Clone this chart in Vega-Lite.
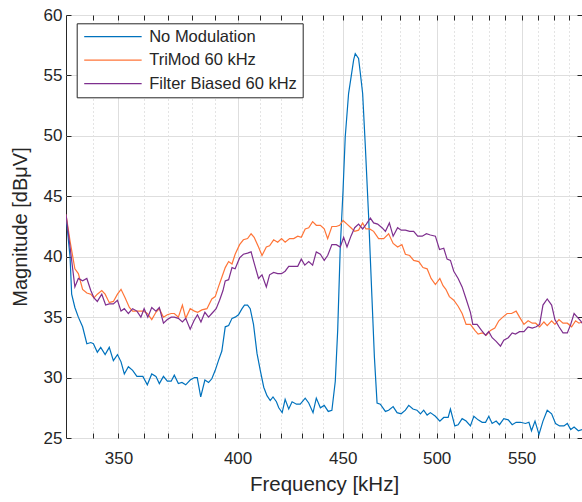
{
"$schema":"https://vega.github.io/schema/vega-lite/v6.json",
"width":516,"height":423,
"autosize":{"type":"none"},
"padding":{"left":66,"top":15,"right":0,"bottom":64},
"background":"white",
"config":{
 "view":{"stroke":"#262626","strokeWidth":1},
 "font":"Liberation Sans",
 "axis":{"labelFont":"Liberation Sans","titleFont":"Liberation Sans","labelColor":"#262626","titleColor":"#262626","tickColor":"#262626","titleFontWeight":"normal","domain":false},
 "legend":{"labelFont":"Liberation Sans"}
},
"datasets":{
"blue":[{"f":330.0,"v":43.4},{"f":331.5,"v":40.0},{"f":332.1,"v":36.9},{"f":333.3,"v":35.8},{"f":334.6,"v":35.0},{"f":336.2,"v":34.2},{"f":337.8,"v":32.8},{"f":339.3,"v":32.9},{"f":340.3,"v":32.8},{"f":341.8,"v":32.1},{"f":343.1,"v":32.5},{"f":344.8,"v":31.9},{"f":346.4,"v":32.5},{"f":348.0,"v":31.4},{"f":349.6,"v":31.9},{"f":351.0,"v":31.3},{"f":352.3,"v":30.3},{"f":353.9,"v":30.9},{"f":355.6,"v":30.6},{"f":357.3,"v":30.1},{"f":359.7,"v":30.1},{"f":361.5,"v":29.4},{"f":363.3,"v":30.3},{"f":365.0,"v":30.1},{"f":366.4,"v":29.5},{"f":368.1,"v":30.1},{"f":369.7,"v":29.7},{"f":371.3,"v":29.7},{"f":372.6,"v":30.2},{"f":374.3,"v":29.5},{"f":375.8,"v":29.6},{"f":377.4,"v":29.4},{"f":379.3,"v":29.8},{"f":381.1,"v":30.0},{"f":382.3,"v":30.0},{"f":383.8,"v":28.4},{"f":385.6,"v":29.8},{"f":387.2,"v":29.6},{"f":388.6,"v":29.9},{"f":390.1,"v":30.6},{"f":391.5,"v":31.4},{"f":393.0,"v":32.2},{"f":394.5,"v":34.2},{"f":396.0,"v":34.3},{"f":397.5,"v":34.9},{"f":398.9,"v":35.0},{"f":400.4,"v":35.2},{"f":402.0,"v":35.7},{"f":403.1,"v":36.0},{"f":404.5,"v":36.0},{"f":405.7,"v":35.7},{"f":407.2,"v":34.4},{"f":408.8,"v":32.0},{"f":410.3,"v":30.6},{"f":411.9,"v":29.2},{"f":413.4,"v":28.5},{"f":414.9,"v":28.1},{"f":416.2,"v":28.4},{"f":417.8,"v":28.0},{"f":418.9,"v":27.5},{"f":420.5,"v":27.1},{"f":421.9,"v":28.2},{"f":423.6,"v":27.4},{"f":425.2,"v":28.0},{"f":427.3,"v":27.8},{"f":429.1,"v":27.8},{"f":431.5,"v":28.3},{"f":433.2,"v":27.9},{"f":435.3,"v":27.1},{"f":436.9,"v":28.3},{"f":438.9,"v":27.5},{"f":440.8,"v":27.7},{"f":442.8,"v":27.2},{"f":444.6,"v":27.3},{"f":446.3,"v":29.7},{"f":447.5,"v":33.9},{"f":448.8,"v":40.8},{"f":450.2,"v":45.5},{"f":451.3,"v":49.9},{"f":453.0,"v":53.5},{"f":454.4,"v":55.0},{"f":455.6,"v":56.3},{"f":456.4,"v":56.8},{"f":458.1,"v":56.4},{"f":459.0,"v":55.2},{"f":460.2,"v":53.5},{"f":461.6,"v":49.1},{"f":463.3,"v":43.3},{"f":465.0,"v":36.7},{"f":466.3,"v":31.7},{"f":467.7,"v":27.9},{"f":469.4,"v":27.8},{"f":472.1,"v":27.2},{"f":473.8,"v":27.3},{"f":476.2,"v":27.6},{"f":478.3,"v":27.1},{"f":480.5,"v":27.0},{"f":482.8,"v":27.3},{"f":484.6,"v":27.7},{"f":486.9,"v":27.4},{"f":489.1,"v":27.3},{"f":491.0,"v":27.0},{"f":492.8,"v":27.3},{"f":494.7,"v":26.9},{"f":496.5,"v":27.1},{"f":499.3,"v":26.8},{"f":501.8,"v":26.4},{"f":504.0,"v":26.7},{"f":506.5,"v":26.7},{"f":507.8,"v":27.4},{"f":510.3,"v":26.0},{"f":512.2,"v":26.1},{"f":514.5,"v":26.6},{"f":516.8,"v":26.4},{"f":519.3,"v":26.0},{"f":521.3,"v":26.8},{"f":523.8,"v":26.5},{"f":526.2,"v":26.3},{"f":528.2,"v":26.3},{"f":530.1,"v":26.8},{"f":532.1,"v":26.2},{"f":534.5,"v":26.4},{"f":536.5,"v":26.1},{"f":539.1,"v":26.6},{"f":541.8,"v":26.5},{"f":544.2,"v":26.1},{"f":546.6,"v":26.3},{"f":549.3,"v":26.3},{"f":552.4,"v":26.2},{"f":554.5,"v":26.3},{"f":556.1,"v":25.6},{"f":558.3,"v":26.4},{"f":560.8,"v":25.3},{"f":563.3,"v":26.4},{"f":566.0,"v":27.3},{"f":568.8,"v":27.0},{"f":571.3,"v":26.2},{"f":573.9,"v":26.0},{"f":576.7,"v":26.0},{"f":578.9,"v":26.2},{"f":581.1,"v":25.7},{"f":583.3,"v":25.9},{"f":586.1,"v":25.6},{"f":588.5,"v":25.7}],
"orange":[{"f":330.0,"v":43.5},{"f":331.5,"v":41.3},{"f":333.3,"v":39.0},{"f":334.6,"v":38.6},{"f":336.2,"v":37.3},{"f":337.8,"v":37.0},{"f":339.3,"v":36.9},{"f":340.5,"v":36.6},{"f":341.8,"v":36.9},{"f":343.5,"v":37.2},{"f":344.8,"v":36.9},{"f":346.4,"v":36.2},{"f":348.0,"v":36.3},{"f":349.6,"v":36.9},{"f":351.0,"v":37.3},{"f":352.6,"v":36.6},{"f":354.3,"v":35.8},{"f":355.6,"v":35.5},{"f":357.3,"v":35.5},{"f":359.9,"v":35.5},{"f":361.5,"v":35.3},{"f":363.3,"v":34.8},{"f":365.0,"v":35.4},{"f":366.4,"v":35.7},{"f":368.1,"v":35.0},{"f":369.7,"v":35.2},{"f":371.3,"v":35.3},{"f":372.6,"v":35.3},{"f":374.3,"v":35.0},{"f":376.0,"v":36.0},{"f":377.4,"v":34.9},{"f":379.3,"v":35.7},{"f":381.1,"v":35.5},{"f":382.5,"v":35.4},{"f":384.3,"v":35.6},{"f":386.5,"v":35.7},{"f":388.6,"v":36.5},{"f":390.1,"v":36.7},{"f":391.5,"v":37.5},{"f":393.0,"v":38.3},{"f":394.5,"v":39.1},{"f":396.0,"v":39.6},{"f":397.5,"v":39.4},{"f":398.9,"v":40.2},{"f":400.9,"v":41.0},{"f":402.6,"v":41.4},{"f":404.5,"v":41.5},{"f":406.1,"v":41.9},{"f":407.5,"v":41.6},{"f":409.5,"v":40.8},{"f":411.1,"v":40.1},{"f":413.1,"v":40.8},{"f":414.6,"v":40.9},{"f":416.5,"v":41.4},{"f":418.4,"v":41.2},{"f":420.2,"v":41.5},{"f":421.9,"v":41.2},{"f":424.0,"v":41.5},{"f":426.0,"v":41.5},{"f":427.9,"v":41.7},{"f":429.6,"v":41.6},{"f":431.5,"v":42.3},{"f":433.2,"v":42.4},{"f":435.1,"v":42.9},{"f":436.9,"v":42.6},{"f":438.9,"v":42.6},{"f":440.8,"v":42.3},{"f":442.5,"v":41.5},{"f":444.6,"v":42.5},{"f":446.8,"v":42.5},{"f":448.5,"v":42.6},{"f":450.2,"v":43.0},{"f":452.2,"v":42.7},{"f":454.2,"v":42.4},{"f":456.1,"v":42.1},{"f":458.1,"v":42.2},{"f":460.2,"v":42.8},{"f":461.9,"v":42.3},{"f":463.8,"v":42.3},{"f":465.9,"v":42.1},{"f":468.5,"v":41.5},{"f":471.2,"v":41.5},{"f":473.8,"v":41.9},{"f":476.2,"v":41.1},{"f":478.6,"v":40.8},{"f":480.9,"v":41.0},{"f":482.8,"v":40.2},{"f":485.1,"v":40.1},{"f":487.3,"v":39.7},{"f":490.1,"v":39.6},{"f":492.4,"v":39.1},{"f":494.7,"v":39.0},{"f":496.9,"v":38.2},{"f":499.3,"v":37.7},{"f":501.8,"v":38.2},{"f":503.6,"v":37.6},{"f":505.2,"v":37.3},{"f":507.2,"v":36.7},{"f":509.7,"v":36.4},{"f":512.2,"v":35.9},{"f":514.5,"v":35.3},{"f":516.8,"v":34.4},{"f":519.3,"v":34.4},{"f":521.9,"v":33.9},{"f":523.8,"v":33.6},{"f":526.2,"v":33.7},{"f":528.6,"v":33.5},{"f":531.1,"v":33.9},{"f":533.7,"v":34.1},{"f":536.1,"v":34.7},{"f":538.5,"v":35.0},{"f":541.1,"v":35.3},{"f":543.8,"v":35.3},{"f":546.6,"v":35.5},{"f":548.7,"v":35.0},{"f":551.4,"v":34.4},{"f":554.0,"v":34.7},{"f":556.6,"v":34.5},{"f":558.7,"v":34.5},{"f":561.2,"v":34.2},{"f":563.9,"v":34.6},{"f":566.0,"v":34.3},{"f":568.8,"v":34.7},{"f":570.9,"v":34.4},{"f":573.5,"v":34.8},{"f":576.1,"v":34.5},{"f":578.9,"v":34.5},{"f":581.7,"v":34.2},{"f":584.3,"v":34.7},{"f":586.5,"v":34.5},{"f":588.5,"v":34.6}],
"purple":[{"f":330.0,"v":43.5},{"f":331.5,"v":40.8},{"f":333.3,"v":37.5},{"f":334.6,"v":38.2},{"f":336.2,"v":38.0},{"f":337.8,"v":38.2},{"f":339.3,"v":37.2},{"f":340.5,"v":36.6},{"f":341.8,"v":36.3},{"f":343.5,"v":36.9},{"f":345.0,"v":36.0},{"f":346.4,"v":36.1},{"f":348.0,"v":36.1},{"f":349.6,"v":36.4},{"f":351.0,"v":35.5},{"f":352.3,"v":35.7},{"f":353.9,"v":35.3},{"f":355.6,"v":35.7},{"f":357.3,"v":35.5},{"f":358.9,"v":35.0},{"f":360.2,"v":35.7},{"f":361.7,"v":35.0},{"f":363.3,"v":35.8},{"f":365.0,"v":35.5},{"f":366.4,"v":35.8},{"f":368.1,"v":34.5},{"f":369.7,"v":34.8},{"f":371.3,"v":35.0},{"f":372.6,"v":35.0},{"f":374.3,"v":34.9},{"f":376.0,"v":34.6},{"f":377.4,"v":34.9},{"f":379.3,"v":34.0},{"f":380.9,"v":34.7},{"f":382.4,"v":35.2},{"f":383.9,"v":34.6},{"f":385.6,"v":35.4},{"f":387.2,"v":35.0},{"f":388.6,"v":35.3},{"f":390.5,"v":35.7},{"f":392.0,"v":36.4},{"f":393.5,"v":37.2},{"f":394.5,"v":38.0},{"f":396.0,"v":38.1},{"f":397.5,"v":39.1},{"f":398.9,"v":39.0},{"f":400.9,"v":39.9},{"f":402.6,"v":40.2},{"f":404.5,"v":40.3},{"f":406.1,"v":40.4},{"f":407.6,"v":39.4},{"f":409.5,"v":38.2},{"f":411.1,"v":38.5},{"f":413.1,"v":37.5},{"f":414.6,"v":38.5},{"f":416.5,"v":38.7},{"f":418.4,"v":38.6},{"f":420.2,"v":38.6},{"f":421.9,"v":38.8},{"f":423.6,"v":39.2},{"f":426.0,"v":39.2},{"f":427.9,"v":39.2},{"f":429.6,"v":39.8},{"f":431.3,"v":39.3},{"f":433.2,"v":39.6},{"f":435.1,"v":39.3},{"f":436.9,"v":40.4},{"f":438.9,"v":40.2},{"f":440.8,"v":39.7},{"f":442.5,"v":40.1},{"f":444.6,"v":41.0},{"f":446.8,"v":41.0},{"f":448.8,"v":40.8},{"f":450.5,"v":41.6},{"f":452.2,"v":40.8},{"f":454.2,"v":41.7},{"f":456.1,"v":42.4},{"f":458.1,"v":42.7},{"f":460.2,"v":42.3},{"f":462.1,"v":42.7},{"f":464.2,"v":43.2},{"f":465.9,"v":42.8},{"f":468.0,"v":42.7},{"f":470.3,"v":42.4},{"f":472.1,"v":42.1},{"f":474.2,"v":42.8},{"f":476.2,"v":41.7},{"f":478.6,"v":42.4},{"f":480.5,"v":42.2},{"f":482.8,"v":42.2},{"f":485.1,"v":42.1},{"f":487.3,"v":42.1},{"f":489.5,"v":41.7},{"f":492.0,"v":41.7},{"f":494.3,"v":41.9},{"f":496.5,"v":41.8},{"f":499.3,"v":41.7},{"f":501.6,"v":40.6},{"f":504.0,"v":40.7},{"f":505.9,"v":39.8},{"f":507.8,"v":39.7},{"f":509.7,"v":38.8},{"f":512.2,"v":38.2},{"f":514.5,"v":37.5},{"f":516.8,"v":36.5},{"f":519.3,"v":35.4},{"f":520.7,"v":34.4},{"f":523.2,"v":34.4},{"f":525.8,"v":33.9},{"f":528.2,"v":33.5},{"f":530.1,"v":33.8},{"f":532.1,"v":33.3},{"f":534.5,"v":33.0},{"f":537.1,"v":32.6},{"f":539.1,"v":33.1},{"f":541.8,"v":33.3},{"f":544.2,"v":33.7},{"f":546.2,"v":33.6},{"f":548.7,"v":33.8},{"f":551.4,"v":33.8},{"f":554.0,"v":34.2},{"f":556.6,"v":34.1},{"f":559.1,"v":34.2},{"f":561.2,"v":34.4},{"f":563.3,"v":36.0},{"f":566.0,"v":36.5},{"f":568.8,"v":36.0},{"f":570.9,"v":34.8},{"f":573.5,"v":34.2},{"f":576.1,"v":33.7},{"f":578.9,"v":33.7},{"f":581.1,"v":34.4},{"f":583.3,"v":35.3},{"f":585.4,"v":35.0},{"f":587.6,"v":34.7},{"f":588.5,"v":34.5}]
},
"layer":[
 {
  "encoding":{
   "x":{"field":"f","type":"quantitative","scale":{"type":"log","domain":[330,588.5],"nice":false},
        "axis":{"orient":"bottom","values":[350,400,450,500,550],"format":"d","grid":true,"gridColor":"#dedede","gridWidth":1,"ticks":true,"tickSize":-5,"labelFontSize":17,"labelPadding":17,"title":"Frequency [kHz]","titleFontSize":20.5,"titlePadding":8}},
   "y":{"field":"v","type":"quantitative","scale":{"domain":[25,60],"nice":false,"zero":false},
        "axis":{"orient":"left","values":[25,30,35,40,45,50,55,60],"grid":true,"gridColor":"#dedede","ticks":true,"tickSize":-5,"labelFontSize":17,"labelPadding":9,"title":"Magnitude [dBμV]","titleFontSize":20,"titlePadding":13}}
  },
  "layer":[
   {"data":{"name":"blue"},"mark":{"type":"line","strokeWidth":1.2,"clip":true},
    "encoding":{"color":{"datum":"No Modulation","type":"nominal",
      "scale":{"domain":["No Modulation","TriMod 60 kHz","Filter Biased 60 kHz"],"range":["#0072BD","#FF7538","#7E2F8E"]},
      "legend":{"orient":"none","legendX":10.7,"legendY":8.3,"title":null,"symbolType":"M-1,0H9","symbolSize":132,"symbolStrokeWidth":1.3,"labelOffset":51,"labelFontSize":16.5,"labelColor":"#262626","strokeColor":"#262626","fillColor":"#ffffff","padding":5,"rowPadding":6.5}}}},
   {"data":{"name":"orange"},"mark":{"type":"line","strokeWidth":1.2,"clip":true},
    "encoding":{"color":{"datum":"TriMod 60 kHz","type":"nominal"}}},
   {"data":{"name":"purple"},"mark":{"type":"line","strokeWidth":1.2,"clip":true},
    "encoding":{"color":{"datum":"Filter Biased 60 kHz","type":"nominal"}}}
  ]
 },
 {
  "data":{"name":"blue"},
  "mark":{"type":"line","opacity":0},
  "encoding":{
   "x":{"field":"f","type":"quantitative","axis":{"orient":"bottom","values":[340,360,370,380,390,410,420,430,440,460,470,480,490,510,520,530,540,560,570,580],"grid":true,"gridColor":"#c8c8c8","gridDash":[1,3],"labels":false,"ticks":true,"tickSize":-5,"title":null}},
   "y":{"field":"v","type":"quantitative","axis":{"orient":"right","values":[25,30,35,40,45,50,55,60],"grid":false,"labels":false,"ticks":true,"tickSize":-5,"title":null}}
  }
 },
 {
  "data":{"name":"blue"},
  "mark":{"type":"line","opacity":0},
  "encoding":{
   "x":{"field":"f","type":"quantitative","axis":{"orient":"top","values":[340,350,360,370,380,390,400,410,420,430,440,450,460,470,480,490,500,510,520,530,540,550,560,570,580],"grid":false,"labels":false,"ticks":true,"tickSize":-5,"title":null}},
   "y":{"field":"v","type":"quantitative","axis":null}
  }
 }
],
"resolve":{"axis":{"x":"independent","y":"independent"}}
}
